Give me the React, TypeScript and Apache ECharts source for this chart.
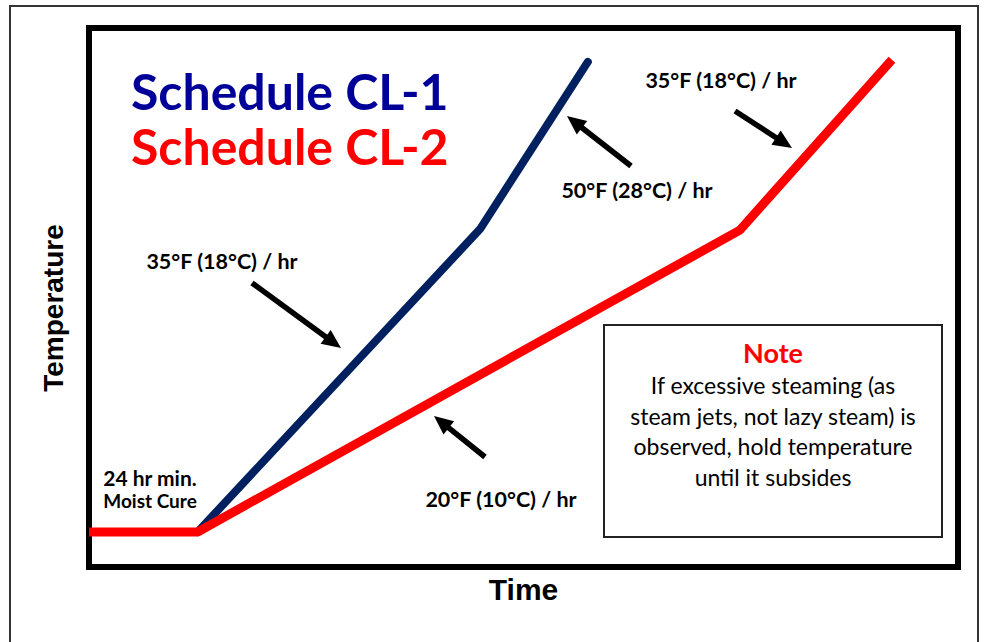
import React, { useEffect, useRef } from "react";
import * as echarts from "echarts";

// Time (arbitrary units, 0-100) and temperature (arbitrary units, 0-100)
const cl1Time = [12.5, 45.0, 57.4];
const cl1Temp = [6.5, 62.7, 93.7];
const cl2Time = [0, 12.5, 74.9, 92.4];
const cl2Temp = [6.5, 6.5, 62.5, 94.1];

const seriesNames = ["Schedule CL-1", "Schedule CL-2"];
const axisNames = ["Time", "Temperature"];
const rateLabels = ["35°F (18°C) / hr", "50°F (28°C) / hr", "35°F (18°C) / hr", "20°F (10°C) / hr"];
const cureLabels = ["24 hr min.", "Moist Cure"];
const noteTitle = "Note";
const noteLines = [
  "If excessive steaming (as",
  "steam jets, not lazy steam) is",
  "observed, hold temperature",
  "until it subsides",
];

const GILL = "Lato, 'Open Sans', sans-serif";
const ARIAL = "'Liberation Sans', Arial, sans-serif";

function arrow(x1: number, y1: number, x2: number, y2: number) {
  const dx = x2 - x1;
  const dy = y2 - y1;
  const len = Math.sqrt(dx * dx + dy * dy);
  const ux = dx / len;
  const uy = dy / len;
  const hl = 19;
  const hw = 8.5;
  const bx = x2 - ux * hl;
  const by = y2 - uy * hl;
  const px = -uy;
  const py = ux;
  return [
    {
      type: "line",
      shape: { x1, y1, x2: bx + ux * 2, y2: by + uy * 2 },
      style: { stroke: "#000", lineWidth: 5.5 },
      silent: true,
    },
    {
      type: "polygon",
      shape: {
        points: [
          [x2, y2],
          [bx + px * hw, by + py * hw],
          [bx - px * hw, by - py * hw],
        ],
      },
      style: { fill: "#000" },
      silent: true,
    },
  ];
}

function label(text: string, x: number, y: number, size: number, weight = "bold", color = "#000", family = GILL, rotation = 0) {
  return {
    type: "text",
    x,
    y,
    rotation,
    silent: true,
    style: {
      text,
      fill: color,
      font: `${weight} ${size}px ${family}`,
      textAlign: "center",
      textVerticalAlign: "middle",
    },
  };
}

export default function App() {
  const ref = useRef<HTMLDivElement>(null);
  useEffect(() => {
    document.body.style.margin = "0";
    if (!ref.current) return;
    const chart = echarts.init(ref.current, null, { renderer: "svg" });
    const cl1 = cl1Time.map((t, i) => [t, cl1Temp[i]]);
    const cl2 = cl2Time.map((t, i) => [t, cl2Temp[i]]);
    const graphic: any[] = [
      {
        type: "rect",
        shape: { x: 10, y: 6, width: 968, height: 660 },
        style: { fill: "none", stroke: "#333", lineWidth: 2 },
        silent: true,
        z: -1,
      },
      ...arrow(252, 283, 341, 348),
      ...arrow(631, 166, 567, 116),
      ...arrow(485, 457, 434, 416),
      ...arrow(735, 111, 792, 148),
      label(rateLabels[0], 222, 261, 21.5),
      label(rateLabels[1], 637, 190, 21.5),
      label(rateLabels[2], 721, 80, 21.5),
      label(rateLabels[3], 501, 499, 21.5),
      label(cureLabels[0], 150, 477, 21),
      label(cureLabels[1], 150, 500, 19),
      label(axisNames[1], 53, 308, 28, "bold", "#000", ARIAL, Math.PI / 2),
      {
        type: "rect",
        shape: { x: 604, y: 325, width: 338, height: 212 },
        style: { fill: "#fff", stroke: "#222", lineWidth: 2 },
        silent: true,
      },
      label(noteTitle, 773, 352, 27, "bold", "#FF0000"),
      ...noteLines.map((t, i) => label(t, 773, 385 + i * 30.7, 23, "normal")),
    ];
    chart.setOption({
      animation: false,
      backgroundColor: "#fff",
      grid: {
        left: 89,
        top: 28,
        right: 26,
        bottom: 75,
        show: true,
        borderColor: "#000",
        borderWidth: 6,
      },
      legend: {
        orient: "vertical",
        left: 121,
        top: 61,
        itemWidth: 0,
        itemGap: 5,
        selectedMode: false,
        data: [
          { name: seriesNames[0], icon: "none", textStyle: { color: "#000099" } },
          { name: seriesNames[1], icon: "none", textStyle: { color: "#FF0000" } },
        ],
        textStyle: { fontFamily: GILL, fontWeight: "bold", fontSize: 50 },
      },
      xAxis: {
        type: "value",
        min: 0,
        max: 100,
        name: axisNames[0],
        nameLocation: "middle",
        nameGap: 7,
        nameTextStyle: { fontFamily: ARIAL, fontWeight: "bold", fontSize: 30, color: "#000", verticalAlign: "top" },
        axisLine: { show: false },
        axisTick: { show: false },
        axisLabel: { show: false },
        splitLine: { show: false },
      },
      yAxis: {
        type: "value",
        min: 0,
        max: 100,
        axisLine: { show: false },
        axisTick: { show: false },
        axisLabel: { show: false },
        splitLine: { show: false },
      },
      series: [
        {
          name: seriesNames[0],
          type: "line",
          data: cl1,
          symbol: "none",
          color: "#00205F",
          lineStyle: { color: "#00205F", width: 8, cap: "round" },
          z: 2,
        },
        {
          name: seriesNames[1],
          type: "line",
          data: cl2,
          symbol: "none",
          color: "#FF0000",
          lineStyle: { color: "#FF0000", width: 9 },
          z: 3,
        },
      ],
      graphic,
    });
    return () => chart.dispose();
  }, []);
  return <div ref={ref} style={{ width: 984, height: 642 }} />;
}
